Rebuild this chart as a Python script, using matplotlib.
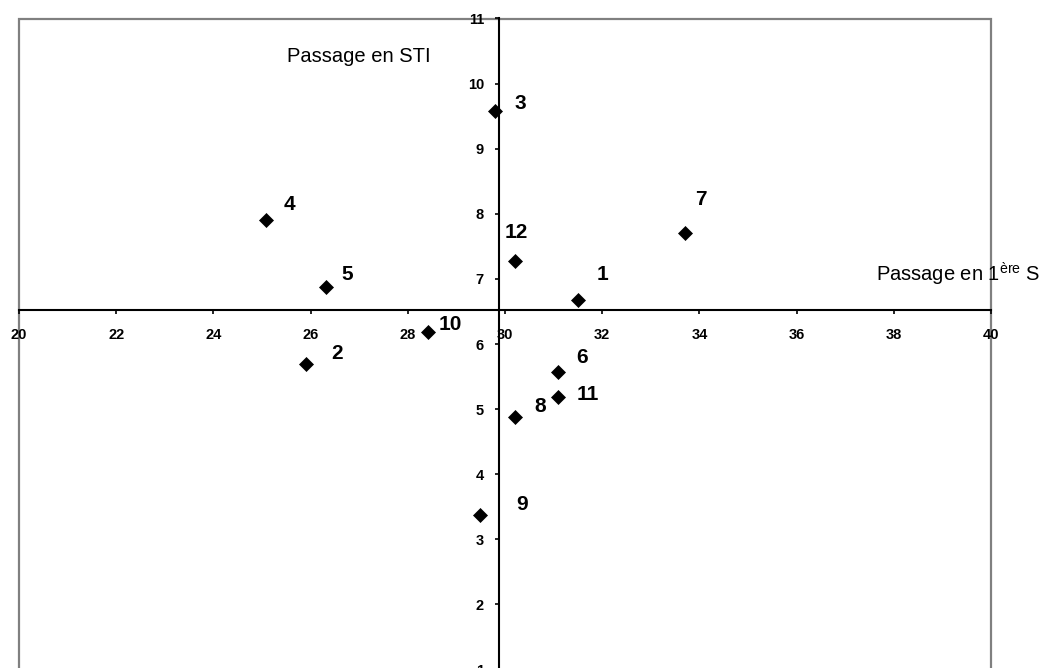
import matplotlib
matplotlib.use("Agg")
import matplotlib.pyplot as plt
from matplotlib.patches import Rectangle

plt.rcParams['font.family'] = ['Liberation Sans', 'DejaVu Sans']
plt.rcParams['mathtext.fontset'] = 'custom'
plt.rcParams['mathtext.rm'] = 'Liberation Sans'

# data
labels = ['1', '2', '3', '4', '5', '6', '7', '8', '9', '10', '11', '12']
x_vals = [31.50, 25.90, 29.80, 25.09, 26.32, 31.10, 33.71, 30.21, 29.48, 28.42, 31.10, 30.21]
y_vals = [6.68, 5.70, 9.58, 7.90, 6.87, 5.57, 7.70, 4.88, 3.38, 6.18, 5.18, 7.28]

x_ticks = list(range(20, 41, 2))
y_ticks = list(range(1, 12))
x_cross = 29.88  # where the vertical axis crosses
y_cross = 6.52   # where the horizontal axis crosses

# label offsets from the point, in pixels (x right, y up)
label_offsets = [(25, 25), (31, 10), (25, 7), (23, 16), (21, 13), (24, 14),
                 (16, 34), (25, 10), (42, 10), (22, 8), (29, 3), (1, 28)]

fig = plt.figure(figsize=(10.41, 6.68), dpi=100)
ax = fig.add_axes([19 / 1041, -1.5 / 668, 972 / 1041, 651 / 668])
ax.set_xlim(20, 40)
ax.set_ylim(1, 11)

# grey frame round the plot area
ax.add_patch(Rectangle((0, 0), 1, 1, transform=ax.transAxes, fill=False,
                       edgecolor='#808080', linewidth=1.6, clip_on=False, zorder=1))

for side in ['top', 'right']:
    ax.spines[side].set_visible(False)
ax.spines['left'].set_position(('data', x_cross))
ax.spines['bottom'].set_position(('data', y_cross))
for side in ['left', 'bottom']:
    ax.spines[side].set_linewidth(1.5)
    ax.spines[side].set_color('black')
    ax.spines[side].set_zorder(2)

ax.set_xticks(x_ticks)
ax.set_yticks(y_ticks)
ax.tick_params(axis='x', direction='out', length=3, width=1.2, pad=10, labelsize=10.5)
ax.tick_params(axis='y', direction='out', length=3, width=1.2, pad=8, labelsize=10.5)
for lab in ax.get_xticklabels() + ax.get_yticklabels():
    lab.set_fontweight('bold')

ax.plot(x_vals, y_vals, linestyle='none', marker='D', markersize=7.6,
        color='black', markeredgewidth=0.5, zorder=3)

for lab, x, y, off in zip(labels, x_vals, y_vals, label_offsets):
    ax.annotate(lab, (x, y), xytext=off, textcoords='offset pixels',
                ha='center', va='center', fontsize=15, fontweight='bold')

fig.text(359 / 1041, 1 - 57 / 668, 'Passage en STI', fontsize=14.5,
         ha='center', va='center')
fig.text(1040 / 1041, 1 - 274 / 668, 'Passage en 1$^{\\mathrm{ère}}$ S', fontsize=14.5,
         ha='right', va='center')

fig.savefig('out.png', dpi=100)
